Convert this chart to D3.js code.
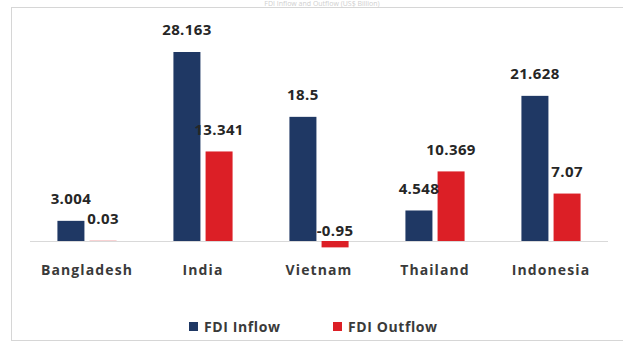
<!DOCTYPE html>
<html>
<head>
<meta charset="utf-8">
<script src="https://cdn.jsdelivr.net/npm/d3@7"></script>
<style>
  body { margin: 0; background: #fff; }
  svg { display: block; }
  text { font-family: "Open Sans", sans-serif; font-weight: bold; }
</style>
</head>
<body>
<svg width="623" height="344"></svg>
<script>
var width = 623, height = 344;

// data
var countries = ["Bangladesh", "India", "Vietnam", "Thailand", "Indonesia"];
var seriesNames = ["FDI Inflow", "FDI Outflow"];
var inflow = [3.004, 28.163, 18.5, 4.548, 21.628];
var outflow = [0.03, 13.341, -0.95, 10.369, 7.07];
var seriesColors = ["#1f3864", "#dc1f26"];

var svg = d3.select("svg");

// chart border + faint title
svg.append("rect")
    .attr("x", 11.5).attr("y", 7.5)
    .attr("width", 630).attr("height", 333)
    .attr("fill", "none")
    .attr("stroke", "#d6d6d6");

svg.append("text")
    .attr("x", 322).attr("y", 6)
    .attr("text-anchor", "middle")
    .style("font-size", "7px")
    .style("font-weight", "normal")
    .attr("fill", "#cfcfcf")
    .text("FDI Inflow and Outflow (US$ Billion)");

// scales
var x0 = d3.scaleBand()
    .domain(countries)
    .range([29, 609])
    .paddingInner(0.49)
    .paddingOuter(0.245);

var x1 = d3.scaleBand()
    .domain(seriesNames)
    .range([0, x0.bandwidth()])
    .paddingInner(0.16);

var y = d3.scaleLinear()
    .domain([0, 28.163])
    .range([241, 52]);

var rows = countries.map(function(c, i) {
    return { country: c, values: [
        { key: seriesNames[0], value: inflow[i] },
        { key: seriesNames[1], value: outflow[i] }
    ]};
});

// baseline
svg.append("line")
    .attr("x1", 30).attr("x2", 608)
    .attr("y1", y(0) + 0.5).attr("y2", y(0) + 0.5)
    .attr("stroke", "#d9d9d9");

var groups = svg.selectAll("g.group")
    .data(rows)
    .enter().append("g")
    .attr("class", "group")
    .attr("transform", function(d) { return "translate(" + x0(d.country) + ",0)"; });

groups.selectAll("rect")
    .data(function(d) { return d.values; })
    .enter().append("rect")
    .attr("x", function(d) { return x1(d.key); })
    .attr("width", x1.bandwidth())
    .attr("y", function(d) { return y(Math.max(0, d.value)); })
    .attr("height", function(d) { return Math.abs(y(d.value) - y(0)); })
    .attr("fill", function(d, i) { return seriesColors[i]; });

groups.selectAll("text")
    .data(function(d) { return d.values; })
    .enter().append("text")
    .attr("x", function(d) { return x1(d.key) + x1.bandwidth() / 2; })
    .attr("y", function(d) {
        return d.value < 0 ? y(0) - 10 : y(d.value) - 22;
    })
    .attr("dy", "0.35em")
    .attr("text-anchor", "middle")
    .style("font-size", "15px")
    .style("letter-spacing", "0.4px")
    .attr("fill", "#262626")
    .text(function(d) { return d.value; });

// category axis labels
svg.append("g")
    .attr("transform", "translate(0," + 270 + ")")
    .call(d3.axisBottom(x0).tickSize(0).tickPadding(0))
    .call(function(g) { g.select(".domain").remove(); })
    .selectAll("text")
    .attr("dy", "0.35em")
    .style("font-family", "\"Open Sans\", sans-serif")
    .style("font-weight", "bold")
    .style("font-size", "14px")
    .style("letter-spacing", "1.1px")
    .attr("fill", "#3a3a3a");

// legend
var legendX = [189, 333];
var legend = svg.selectAll("g.legend")
    .data(seriesNames)
    .enter().append("g")
    .attr("class", "legend")
    .attr("transform", function(d, i) { return "translate(" + legendX[i] + ",327)"; });

legend.append("rect")
    .attr("x", 0).attr("y", -5)
    .attr("width", 9).attr("height", 9)
    .attr("fill", function(d, i) { return seriesColors[i]; });

legend.append("text")
    .attr("x", 15).attr("y", 0)
    .attr("dy", "0.35em")
    .style("font-size", "14px")
    .style("letter-spacing", "0.6px")
    .attr("fill", "#3a3a3a")
    .text(function(d) { return d; });
</script>
</body>
</html>
